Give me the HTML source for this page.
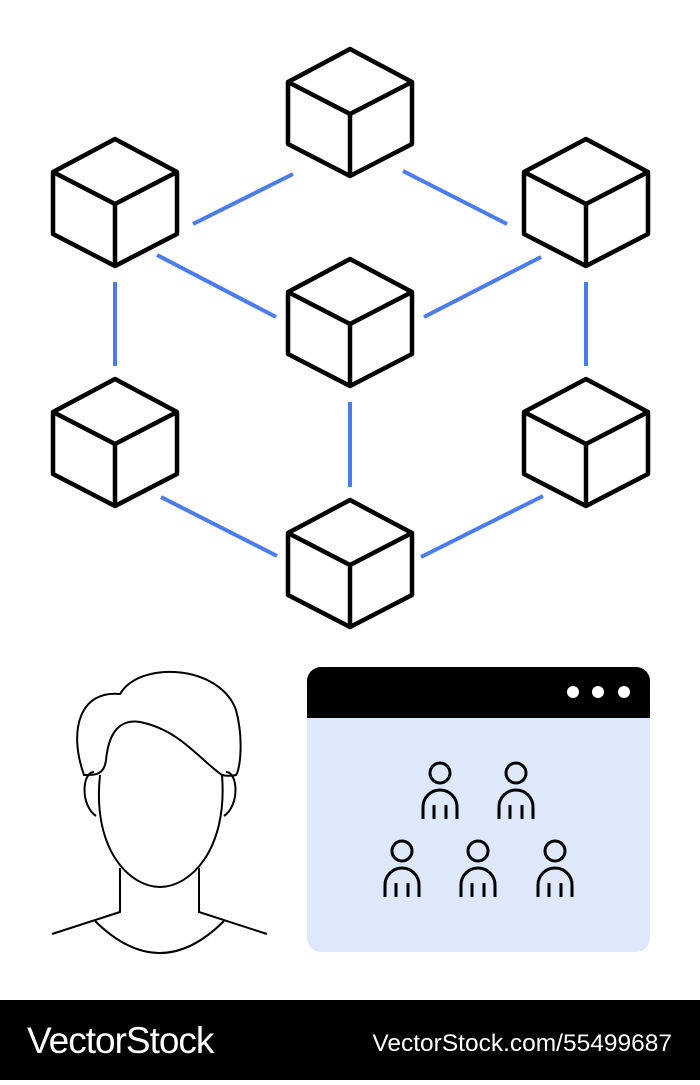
<!DOCTYPE html>
<html><head><style>body{margin:0;width:700px;height:1080px;background:#fff;overflow:hidden;font-family:"Liberation Sans",sans-serif}</style></head><body>
<svg width="700" height="1080" viewBox="0 0 700 1080" xmlns="http://www.w3.org/2000/svg">
<defs>
<g id="cube" fill="none" stroke="#000" stroke-width="4.5" stroke-linejoin="round">
<path d="M0 0 L-62 33 L-62 95 L0 127 L62 95 L62 33 Z"/>
<path d="M-62 33 L0 65 L62 33 M0 65 L0 127"/>
</g>
<g id="p" fill="none" stroke="#000" stroke-width="3">
<circle cx="0" cy="0" r="10"/>
<path d="M-17 46 V34 A17 17 0 0 1 17 34 V46 M-6 46 V32 M6 46 V32"/>
</g>
</defs>
<g stroke="#4a7cf0" stroke-width="4" stroke-linecap="butt">
<line x1="193" y1="224" x2="293" y2="174"/>
<line x1="403" y1="171" x2="507" y2="224"/>
<line x1="157" y1="255" x2="276" y2="317"/>
<line x1="424" y1="317" x2="541" y2="257"/>
<line x1="115" y1="282" x2="115" y2="366"/>
<line x1="586" y1="282" x2="586" y2="366"/>
<line x1="350" y1="402" x2="350" y2="487"/>
<line x1="161" y1="497" x2="277" y2="556"/>
<line x1="421" y1="557" x2="543" y2="496"/>
</g>
<use href="#cube" x="350" y="49"/>
<use href="#cube" x="115" y="139"/>
<use href="#cube" x="586" y="139"/>
<use href="#cube" x="350" y="259"/>
<use href="#cube" x="115" y="379"/>
<use href="#cube" x="586" y="379"/>
<use href="#cube" x="350" y="500"/>
<g fill="none" stroke="#000" stroke-width="2">
<path d="M52 934 L120 912 V868 M199 868 V912 L267 934"/>
<path d="M95 921 Q160 985 224 921"/>
<path d="M100 775 C92 850 130 887 160 887 C190 887 228 850 222 775"/>
<path d="M94 772 C82 772 80 805 96 816 M226 772 C238 772 240 805 224 816"/>
<path d="M84 775 C68 730 80 690 120 694 C140 660 220 665 236 710 C244 740 240 770 236 775 C232 776 226 776 222 775 C200 760 180 730 140 722 C115 718 108 740 106 760 C104 775 96 775 84 775 Z"/>
</g>
<rect x="307" y="667" width="343" height="285" rx="14" fill="#dde8fb"/>
<path d="M321 667 H636 A14 14 0 0 1 650 681 V718 H307 V681 A14 14 0 0 1 321 667 Z" fill="#000"/>
<circle cx="573" cy="692" r="6" fill="#fff"/>
<circle cx="598" cy="692" r="6" fill="#fff"/>
<circle cx="624" cy="692" r="6" fill="#fff"/>
<use href="#p" x="440" y="773"/>
<use href="#p" x="516" y="773"/>
<use href="#p" x="402" y="851"/>
<use href="#p" x="478" y="851"/>
<use href="#p" x="555" y="851"/>
<rect x="0" y="1000" width="700" height="80" fill="#000"/>
<text x="27" y="1053" fill="#fff" font-size="37" font-family="Liberation Sans" letter-spacing="-1">VectorStock</text>
<text x="672" y="1051" fill="#fff" font-size="24.5" text-anchor="end" font-family="Liberation Sans">VectorStock.com/55499687</text>
</svg>
</body></html>
